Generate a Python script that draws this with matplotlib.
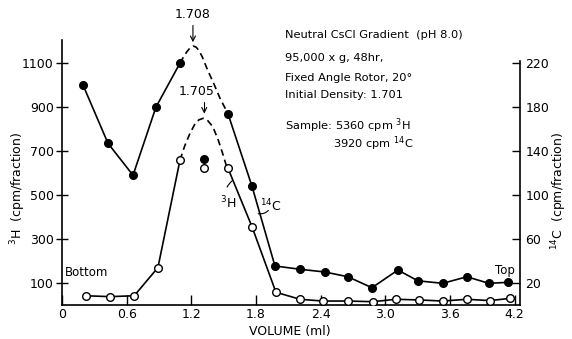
import numpy as np
import matplotlib.pyplot as plt

plt.rcParams['font.family'] = 'DejaVu Sans'
plt.rcParams['mathtext.default'] = 'regular'

# 3H (open circles, left axis)
h_vol = [0.22, 0.445, 0.67, 0.89, 1.095, 1.317, 1.54, 1.763, 1.985, 2.208,
         2.42, 2.653, 2.885, 3.098, 3.31, 3.534, 3.757, 3.97, 4.156]
h_cpm = [42, 38, 42, 170, 659, 624, 622, 356, 58, 26,
         18, 18, 15, 26, 23, 18, 26, 20, 30]

# 14C (filled circles, right axis)
c_vol = [0.195, 0.427, 0.659, 0.872, 1.095, 1.317, 1.54, 1.763, 1.976, 2.208,
         2.44, 2.653, 2.876, 3.117, 3.302, 3.534, 3.757, 3.961, 4.137]
c_cpm = [200, 147, 118, 180, 220, 133, 174, 108, 35.5, 32.5,
         30, 25.7, 15.7, 31.8, 22, 19.7, 25.7, 19.7, 20.6]

# dashed peak sketches
h_dash_vol = [1.095, 1.14, 1.187, 1.23, 1.27, 1.311, 1.35, 1.40, 1.45, 1.49, 1.533]
h_dash_cpm = [659, 725, 780, 820, 842, 849, 840, 810, 750, 690, 621]
c_dash_vol = [1.095, 1.13, 1.16, 1.19, 1.218, 1.245, 1.27, 1.30, 1.354, 1.41, 1.466, 1.54]
c_dash_cpm = [220, 226, 230.5, 234, 235.5, 234.5, 231.5, 226, 213, 201, 188, 174]

fig = plt.figure(figsize=(5.72, 3.39), dpi=100)
ax = fig.add_axes([0.1084, 0.1003, 0.8007, 0.7817])
ax2 = ax.twinx()

lw = 1.2
# 3H
ax.plot(h_vol[:5], h_cpm[:5], '-o', color='black', lw=lw, ms=5.5,
        mfc='white', mec='black', mew=1.0, zorder=3)
ax.plot(h_vol[6:], h_cpm[6:], '-o', color='black', lw=lw, ms=5.5,
        mfc='white', mec='black', mew=1.0, zorder=3)
ax.plot(h_vol[5], h_cpm[5], 'o', ms=5.5, mfc='white', mec='black', mew=1.0, zorder=3)
ax.plot(h_dash_vol, h_dash_cpm, '--', color='black', lw=lw, dashes=(4, 2.5))

# 14C
ax2.plot(c_vol[:5], c_cpm[:5], '-o', color='black', lw=lw, ms=5.5, zorder=3)
ax2.plot(c_vol[6:], c_cpm[6:], '-o', color='black', lw=lw, ms=5.5, zorder=3)
ax2.plot(c_vol[5], c_cpm[5], 'o', color='black', ms=5.5, zorder=3)
ax2.plot(c_dash_vol, c_dash_cpm, '--', color='black', lw=lw, dashes=(4, 2.5))

# axes
ax.set_xlim(0, 4.25)
ax.set_ylim(0, 1205)
ax2.set_ylim(0, 241)
ax.set_xticks([0, 0.6, 1.2, 1.8, 2.4, 3.0, 3.6, 4.2])
ax.set_xticklabels(['0', '0.6', '1.2', '1.8', '2.4', '3.0', '3.6', '4.2'])
ax.set_yticks([100, 300, 500, 700, 900, 1100])
ax2.set_yticks([20, 60, 100, 140, 180, 220])

ax.tick_params(axis='x', direction='in', length=7, width=1, labelsize=9, pad=2)
ax.tick_params(axis='y', direction='inout', length=8, width=1, labelsize=9, pad=2)
ax2.tick_params(axis='y', direction='in', length=6, width=1, labelsize=9, pad=4)

for a in (ax, ax2):
    a.spines['top'].set_visible(False)
    for s in a.spines.values():
        s.set_linewidth(1.2)
ax.spines['right'].set_visible(False)
ax2.spines['left'].set_visible(False)
ax2.spines['bottom'].set_visible(False)
ax2.spines['right'].set_bounds(0, 222)

ax.set_xlabel('VOLUME (ml)', fontsize=9, va='center')
ax.xaxis.set_label_coords(0.498, -0.1)
ax.set_ylabel(r'$^3$H  (cpm/fraction)', fontsize=9, va='center')
ax.yaxis.set_label_coords(-0.096, 0.44)
ax2.set_ylabel(r'$^{14}$C  (cpm/fraction)', fontsize=9, va='center', rotation=90)
ax2.yaxis.set_label_coords(1.085, 0.43)

# peak density labels
ax.annotate('1.708', xy=(1.215, 1195), xytext=(1.215, 1290), ha='center', va='bottom',
            fontsize=9, annotation_clip=False,
            arrowprops=dict(arrowstyle='->', lw=0.8, color='black', shrinkA=1, shrinkB=0))
ax.annotate('1.705', xy=(1.32, 870), xytext=(1.25, 940), ha='center', va='bottom',
            fontsize=9,
            arrowprops=dict(arrowstyle='->', lw=0.8, color='black', shrinkA=1, shrinkB=0,
                            connectionstyle='angle,angleA=0,angleB=90,rad=0'))

# curve labels
ax.annotate(r'$^3$H', xy=(1.58, 565), xytext=(1.54, 462), ha='center', va='center',
            fontsize=9,
            arrowprops=dict(arrowstyle='-', lw=0.8, color='black', shrinkA=4, shrinkB=0,
                            connectionstyle='arc3,rad=-0.4'))
ax.annotate(r'$^{14}$C', xy=(1.82, 415), xytext=(1.94, 452), ha='center', va='center',
            fontsize=9,
            arrowprops=dict(arrowstyle='-', lw=0.8, color='black', shrinkA=4, shrinkB=0,
                            connectionstyle='arc3,rad=-0.4'))

ax.text(0.03, 150, 'Bottom', fontsize=8.5, ha='left', va='center')
ax.text(4.2, 155, 'Top', fontsize=8.5, ha='right', va='center')

# run conditions
fs = 8.2
fig.text(285 / 572, 1 - 35 / 339, 'Neutral CsCl Gradient  (pH 8.0)', fontsize=fs, va='center')
fig.text(285 / 572, 1 - 58 / 339, '95,000 x g, 48hr,', fontsize=fs, va='center')
fig.text(285 / 572, 1 - 78 / 339, 'Fixed Angle Rotor, 20°', fontsize=fs, va='center')
fig.text(285 / 572, 1 - 95 / 339, 'Initial Density: 1.701', fontsize=fs, va='center')
fig.text(285 / 572, 1 - 126 / 339, r'Sample: 5360 cpm $^3$H', fontsize=fs, va='center')
fig.text(333 / 572, 1 - 144 / 339, r'3920 cpm $^{14}$C', fontsize=fs, va='center')

fig.savefig('out.png', dpi=100)
